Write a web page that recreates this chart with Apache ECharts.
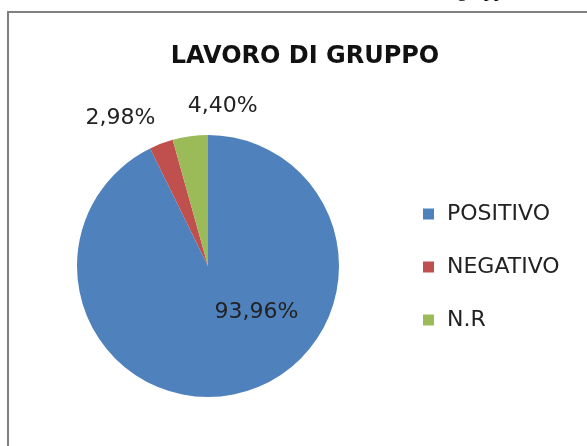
<!DOCTYPE html>
<html>
<head>
<meta charset="utf-8">
<script src="https://cdn.jsdelivr.net/npm/echarts@6/dist/echarts.min.js"></script>
<style>
    * { margin: 0; padding: 0; }
    html, body { width: 587px; height: 446px; background: #fff; }
</style>
</head>
<body>
<div id="main" style="width: 587px; height: 446px;"></div>
<script>
    // dati del grafico
    const titolo = 'LAVORO DI GRUPPO';
    const categorie = ['POSITIVO', 'NEGATIVO', 'N.R'];
    const valori = [93.96, 2.98, 4.40];
    const colori = ['#4F81BD', '#C0504D', '#9BBB59'];
    // spostamento delle etichette rispetto alla posizione interna
    const spostamenti = [[33, -20], [-63, -84], [24, -92]];

    const font = '"DejaVu Sans", Verdana, sans-serif';

    let myChart = echarts.init(document.getElementById('main'));
    let option = {
        animation: false,
        backgroundColor: '#ffffff',
        title: {
            text: titolo,
            left: 305,
            top: 45,
            textAlign: 'center',
            padding: 0,
            textStyle: {
                fontFamily: font,
                fontWeight: 'bold',
                fontSize: 24,
                color: '#111'
            }
        },
        legend: {
            orient: 'vertical',
            left: 423,
            top: 203,
            padding: 0,
            icon: 'rect',
            itemWidth: 11,
            itemHeight: 11,
            itemGap: 31,
            data: categorie,
            textStyle: {
                fontFamily: font,
                fontSize: 22,
                color: '#222',
                padding: [0, 0, 0, 8]
            }
        },
        graphic: [
            {
                type: 'rect',
                shape: { x: 8, y: 12, width: 640, height: 500 },
                style: { fill: 'none', stroke: '#808080', lineWidth: 2 },
                silent: true
            },
            {
                type: 'text',
                x: 457,
                y: 1,
                style: {
                    text: 'gruppo',
                    font: '20px "Liberation Serif", serif',
                    fill: '#000',
                    verticalAlign: 'bottom'
                },
                silent: true
            }
        ],
        series: [
            {
                type: 'pie',
                name: titolo,
                center: [208, 266],
                radius: 131,
                startAngle: 90,
                clockwise: true,
                itemStyle: { borderWidth: 0 },
                labelLine: { show: false },
                emphasis: { disabled: true },
                data: categorie.map((c, i) => ({
                    name: c,
                    value: valori[i],
                    itemStyle: { color: colori[i] },
                    label: {
                        show: true,
                        position: 'inside',
                        offset: spostamenti[i],
                        formatter: p => p.value.toFixed(2).replace('.', ',') + '%',
                        fontFamily: font,
                        fontSize: 22,
                        color: '#222',
                        textBorderWidth: 0
                    }
                }))
            }
        ]
    };
    myChart.setOption(option);
</script>
</body>
</html>
